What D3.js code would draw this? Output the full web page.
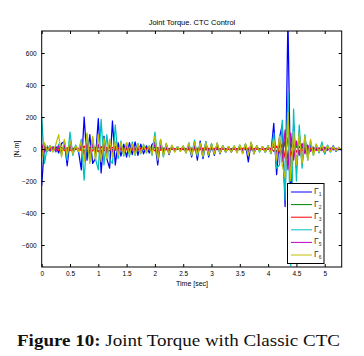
<!DOCTYPE html>
<html>
<head>
<meta charset="utf-8">
<script src="https://cdn.jsdelivr.net/npm/d3@7"></script>
<style>
  body { margin: 0; background: #fff; }
  svg { display: block; }
</style>
</head>
<body>
<div id="chart"></div>
<script>
// sample times [sec]
var time = [
  0.00, 0.05, 0.10, 0.15, 0.20, 0.25, 0.30, 0.35, 0.40, 0.45,
  0.50, 0.55, 0.60, 0.65, 0.70, 0.75, 0.80, 0.85, 0.90, 0.95,
  1.00, 1.05, 1.10, 1.15, 1.20, 1.25, 1.30, 1.35, 1.40, 1.45,
  1.50, 1.55, 1.60, 1.65, 1.70, 1.75, 1.80, 1.85, 1.90, 1.95,
  2.00, 2.05, 2.10, 2.15, 2.20, 2.25, 2.30, 2.35, 2.40, 2.45,
  2.50, 2.55, 2.60, 2.65, 2.70, 2.75, 2.80, 2.85, 2.90, 2.95,
  3.00, 3.05, 3.10, 3.15, 3.20, 3.25, 3.30, 3.35, 3.40, 3.45,
  3.50, 3.55, 3.60, 3.65, 3.70, 3.75, 3.80, 3.85, 3.90, 3.95,
  4.00, 4.05, 4.10, 4.15, 4.20, 4.25, 4.30, 4.35, 4.40, 4.45,
  4.50, 4.55, 4.60, 4.65, 4.70, 4.75, 4.80, 4.85, 4.90, 4.95,
  5.00, 5.05, 5.10, 5.15, 5.20, 5.25, 5.30
];

// joint torques [N.m]
var gamma1 = [
  -230, 30, -15, 20, -10, 15, -25, 35, 45, -105,
  50, -30, 20, -15, -130, 200, -70, 90, -90, -60,
  190, -150, 80, -60, -120, 175, -100, 40, -45, 30,
  -50, 40, -35, 45, -40, 30, -30, 20, -25, 30,
  40, -100, 50, -40, 30, -35, 20, -15, 15, -10,
  15, -20, 25, -50, 45, -70, 50, -60, 45, -50,
  30, -40, 35, -30, 20, -20, 15, -20, 15, -15,
  20, -25, 30, -80, 40, -30, 20, -15, 15, -20,
  20, -25, 160, -160, 70, 150, -360, 820, -300, 150,
  -120, 100, -90, 60, -50, 30, -25, 20, -20, 25,
  -30, 20, -15, 20, -15, 10, -10
];
var gamma2 = [
  15, -10, 5, -5, 6, -6, 8, -10, 10, -8,
  10, -6, 5, -5, 10, -15, 15, -12, 12, -10,
  15, -15, 12, -10, 10, -8, 8, -6, 6, -8,
  6, -6, 5, -6, 6, -5, 4, -4, 4, -6,
  12, -10, 8, -6, 5, -4, 3, -3, 3, -3,
  4, -4, 5, -6, 6, -6, 5, -6, 6, -5,
  4, -4, 5, -3, 3, -3, 3, -3, 3, -3,
  4, -4, 5, -6, 6, -4, 3, -3, 3, -3,
  3, -4, 15, -18, 20, -30, 50, -60, 40, -30,
  20, -15, 12, -10, 8, -6, 5, -4, 3, -4,
  5, -3, 3, -2, 2, -2, 2
];
var gamma3 = [
  -20, 12, -6, 5, -5, 6, -8, 10, -10, 8,
  -10, 6, -5, 5, -10, 18, -15, 12, -12, 10,
  -18, 15, -12, 10, -12, 10, -8, 6, -6, 8,
  -6, 6, -5, 6, -6, 5, -4, 4, -4, 6,
  -12, 10, -8, 6, -5, 4, -3, 3, -3, 3,
  -4, 4, -5, 6, -6, 6, -5, 6, -6, 5,
  -4, 4, -5, 3, -3, 3, -3, 3, -3, 3,
  -4, 4, -5, 6, -6, 4, -3, 3, -3, 3,
  -3, 4, -15, 18, -25, 35, -55, 70, -45, 30,
  -20, 15, -12, 10, -8, 6, -5, 4, -3, 4,
  -5, 3, -3, 2, -2, 2, -2
];
var gamma4 = [
  200, -90, 20, -15, 15, -20, 30, -40, 50, -70,
  105, -40, 25, -20, 60, -195, 90, -80, 70, -60,
  -130, 185, -100, 90, -70, -90, 150, -60, 50, -45,
  40, -50, 45, -40, 35, -30, 30, -25, 20, -40,
  105, -60, 60, -50, 35, -25, 20, -15, 15, -15,
  20, -25, 40, -40, 55, -45, 40, -50, 45, -40,
  35, -30, 30, -25, 20, -20, 15, -15, 20, -20,
  25, -20, 30, -40, 35, -25, 20, -20, 15, -20,
  20, -30, 100, -120, -100, 180, -320, 355, -730, 250,
  -200, 150, -120, 90, -70, 50, -40, 30, -25, 45,
  -30, 25, -20, 15, -15, 10, -10
];
var gamma5 = [
  30, -20, 10, -10, 12, -15, 20, -25, 25, -20,
  20, -15, 10, -10, 25, -40, 35, -30, 30, -25,
  30, -35, 30, -25, 25, -20, 20, -15, 15, -20,
  15, -15, 12, -15, 15, -10, 10, -10, 8, -15,
  30, -25, 20, -15, 12, -10, 8, -8, 6, -6,
  8, -10, 12, -15, 15, -15, 12, -15, 15, -12,
  10, -10, 12, -8, 8, -8, 6, -8, 8, -8,
  10, -10, 12, -15, 15, -10, 8, -6, 6, -8,
  8, -10, 40, -45, 60, -80, 120, -130, 100, -70,
  50, -40, 35, -30, 25, -15, 12, -10, 8, -10,
  12, -8, 6, -6, 5, -5, 4
];
var gamma6 = [
  -60, 40, -15, 20, -20, 30, 90, -50, 60, -40,
  50, -30, 20, -15, 50, -80, 100, -90, 80, -70,
  90, -80, 70, -60, 60, -50, 50, -40, 40, -35,
  40, -35, 30, -35, 30, -25, 25, -20, 20, -30,
  80, -70, 60, -45, 35, -30, 25, -20, 15, -15,
  20, -25, 35, -40, 45, -40, 35, -45, 40, -35,
  30, -30, 40, -25, 20, -20, 15, -20, 20, -25,
  25, -30, 35, -40, 45, -30, 20, -15, 15, -20,
  20, -25, 60, -70, 80, -100, -180, 230, -200, 110,
  -100, 100, -90, 80, -70, 60, -40, 30, -20, 25,
  -20, 20, -15, 15, -10, 10, -5
];

var seriesNames = ["1", "2", "3", "4", "5", "6"];
var seriesValues = [gamma1, gamma2, gamma3, gamma4, gamma5, gamma6];
var seriesColors = ["#0000ff", "#008000", "#ff0000", "#00bfbf", "#bf00bf", "#bfbf00"];

var xTicks = [0, 0.5, 1, 1.5, 2, 2.5, 3, 3.5, 4, 4.5, 5];
var yTicks = [-600, -400, -200, 0, 200, 400, 600];

var width = 364, height = 356;
var plot = { left: 41.7, right: 341.7, top: 31, bottom: 267 };

var svg = d3.select("#chart").append("svg")
    .attr("width", width)
    .attr("height", height)
    .style("font-family", "'Liberation Sans', Arial, sans-serif");

svg.append("rect").attr("width", width).attr("height", height).attr("fill", "#fff");

var x = d3.scaleLinear().domain([0, 5.3]).range([plot.left, plot.right]);
var y = d3.scaleLinear().domain([-737.5, 737.5]).range([plot.bottom, plot.top]);

svg.append("clipPath").attr("id", "clip")
    .append("rect")
    .attr("x", plot.left).attr("y", plot.top)
    .attr("width", plot.right - plot.left)
    .attr("height", plot.bottom - plot.top);

var line = d3.line()
    .x(function (d, i) { return x(time[i]); })
    .y(function (d) { return y(d); });

var lines = svg.append("g").attr("clip-path", "url(#clip)");
seriesValues.forEach(function (vals, k) {
    lines.append("path")
        .attr("d", line(vals))
        .attr("fill", "none")
        .attr("stroke", seriesColors[k])
        .attr("stroke-width", 1.25)
        .attr("stroke-linejoin", "round");
});

// axes, ticks pointing inwards like matlab
function styleAxis(g) {
    g.select(".domain").remove();
    g.selectAll(".tick line").attr("stroke", "#000");
    g.selectAll(".tick text").attr("fill", "#000").attr("font-size", "6.5px");
}

svg.append("g")
    .attr("transform", "translate(0," + plot.bottom + ")")
    .call(d3.axisBottom(x).tickValues(xTicks).tickFormat(d3.format("")).tickSize(-3).tickPadding(4))
    .call(styleAxis);
svg.append("g")
    .attr("transform", "translate(0," + plot.top + ")")
    .call(d3.axisTop(x).tickValues(xTicks).tickFormat("").tickSize(-3))
    .call(styleAxis);
svg.append("g")
    .attr("transform", "translate(" + plot.left + ",0)")
    .call(d3.axisLeft(y).tickValues(yTicks).tickFormat(d3.format("")).tickSize(-3).tickPadding(5))
    .call(styleAxis);
svg.append("g")
    .attr("transform", "translate(" + plot.right + ",0)")
    .call(d3.axisRight(y).tickValues(yTicks).tickFormat("").tickSize(-3))
    .call(styleAxis);

svg.append("rect")
    .attr("x", plot.left).attr("y", plot.top)
    .attr("width", plot.right - plot.left)
    .attr("height", plot.bottom - plot.top)
    .attr("fill", "none")
    .attr("stroke", "#000")
    .attr("stroke-width", 1);

svg.append("text")
    .attr("x", 192).attr("y", 25)
    .attr("text-anchor", "middle")
    .attr("font-size", "7.5px")
    .text("Joint Torque. CTC Control");

svg.append("text")
    .attr("x", 192).attr("y", 286)
    .attr("text-anchor", "middle")
    .attr("font-size", "7px")
    .text("Time [sec]");

svg.append("text")
    .attr("transform", "translate(19,149) rotate(-90)")
    .attr("text-anchor", "middle")
    .attr("font-size", "7px")
    .text("[N.m]");

// legend
var leg = svg.append("g");
leg.append("rect")
    .attr("x", 287.5).attr("y", 183.5)
    .attr("width", 36.5).attr("height", 80)
    .attr("fill", "#fff")
    .attr("stroke", "#000")
    .attr("stroke-width", 1);
seriesNames.forEach(function (name, k) {
    var ly = 192 + k * 12.6;
    leg.append("line")
        .attr("x1", 291).attr("x2", 312)
        .attr("y1", ly).attr("y2", ly)
        .attr("stroke", seriesColors[k])
        .attr("stroke-width", 1);
    var t = leg.append("text")
        .attr("x", 314).attr("y", ly + 2)
        .attr("font-size", "8.5px")
        .attr("fill", "#333");
    t.append("tspan").text("Γ");
    t.append("tspan").attr("dy", 2).attr("font-size", "5px").text(name);
});

// caption
var cap = svg.append("text")
    .attr("x", 17).attr("y", 346)
    .attr("font-family", "'Liberation Serif', 'Times New Roman', serif")
    .attr("font-size", "16px")
    .attr("fill", "#111");
cap.append("tspan").attr("font-weight", "bold").text("Figure 10:");
cap.append("tspan").text(" Joint Torque with Classic CTC");
cap.attr("textLength", 323).attr("lengthAdjust", "spacingAndGlyphs");
</script>
</body>
</html>
